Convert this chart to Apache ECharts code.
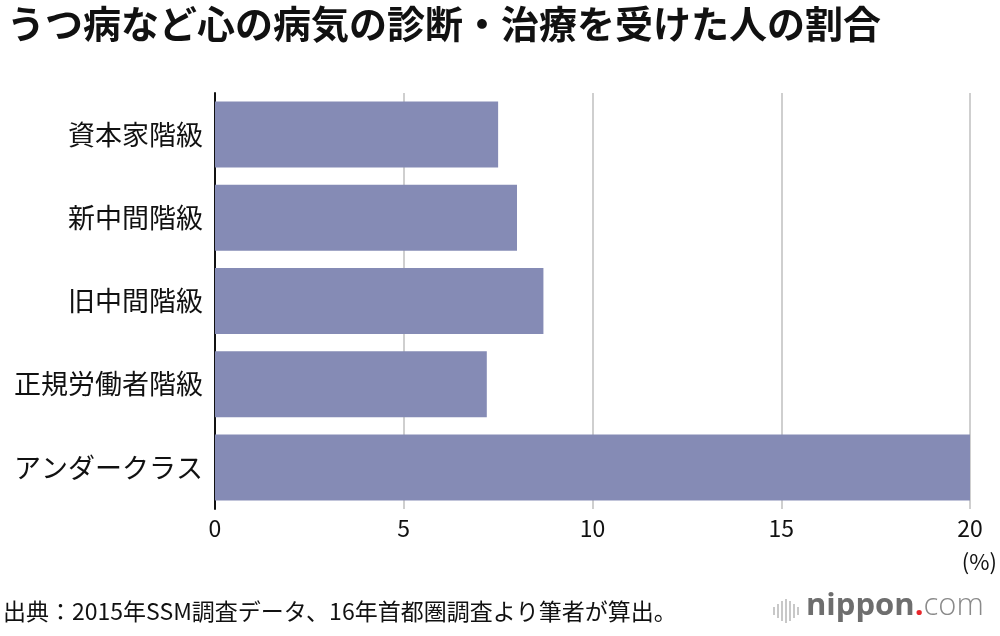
<!DOCTYPE html>
<html><head><meta charset="utf-8">
<script src="https://cdn.jsdelivr.net/npm/echarts@6/dist/echarts.min.js"></script>
<style>html,body{margin:0;padding:0;background:#fff}#c{width:1000px;height:636px}</style>
</head><body><div id="c"></div>
<script>
const categories = ['資本家階級','新中間階級','旧中間階級','正規労働者階級','アンダークラス'];
const values = [7.5, 8.0, 8.7, 7.2, 20.0];
const xTicks = [0, 5, 10, 15, 20];
const title = 'うつ病など心の病気の診断・治療を受けた人の割合';
const source = '出典：2015年SSM調査データ、16年首都圏調査より筆者が算出。';
const FONT = '"Noto Sans CJK JP", "Noto Sans", sans-serif';

const chart = echarts.init(document.getElementById('c'), null, {renderer: 'canvas'});
const logoBars = [];
const barHs = [8, 14, 20, 24, 20, 14, 8];
barHs.forEach((h, i) => logoBars.push({
  type: 'rect', left: 773 + i * 4, top: 611 - h / 2,
  shape: {width: 2, height: h}, style: {fill: '#c8c8c8'}
}));
chart.setOption({
  animation: false,
  textStyle: {fontFamily: FONT},
  title: {
    text: title, left: 2, top: 0,
    textStyle: {fontSize: 38, fontWeight: 'bold', color: '#111', fontFamily: FONT}
  },
  grid: {left: 215, right: 30, top: 93, bottom: 127, containLabel: false},
  xAxis: {
    type: 'value', min: 0, max: 20, interval: 5,
    axisLine: {show: false}, axisTick: {show: false},
    splitLine: {show: true, lineStyle: {color: '#cfcfcf', width: 2}},
    axisLabel: {
      color: '#111', fontSize: 23, margin: 8, fontFamily: FONT,
      formatter: v => xTicks.includes(v) ? String(v) : ''
    }
  },
  yAxis: {
    type: 'category', data: categories, inverse: true,
    axisLine: {show: true, onZero: false, lineStyle: {color: '#111', width: 2}},
    axisTick: {show: false},
    axisLabel: {color: '#111', fontSize: 27, margin: 12, fontFamily: FONT}
  },
  series: [{
    type: 'bar', data: values, barWidth: 66,
    itemStyle: {color: '#858bb5'}, z: 3
  }],
  graphic: [
    {type: 'text', right: 3, top: 551, style: {text: '(%)', fontSize: 22, fill: '#111', fontFamily: FONT}},
    {type: 'text', left: 3, top: 600, style: {text: source, fontSize: 23, fill: '#111', fontFamily: FONT}},
    ...logoBars,
    {type: 'text', left: 806, top: 591, style: {
      rich: {
        a: {fontSize: 31, fontWeight: 'bold', fill: '#6e6e6e', fontFamily: '"Open Sans", sans-serif'},
        b: {fontSize: 31, fontWeight: 'bold', fill: '#e8262b', fontFamily: '"Open Sans", sans-serif'},
        c: {fontSize: 31, fill: '#8a8a8a', fontFamily: '"Open Sans", sans-serif', fontWeight: 300}
      },
      text: '{a|nippon}{b|.}{c|com}'
    }}
  ]
});
</script></body></html>
